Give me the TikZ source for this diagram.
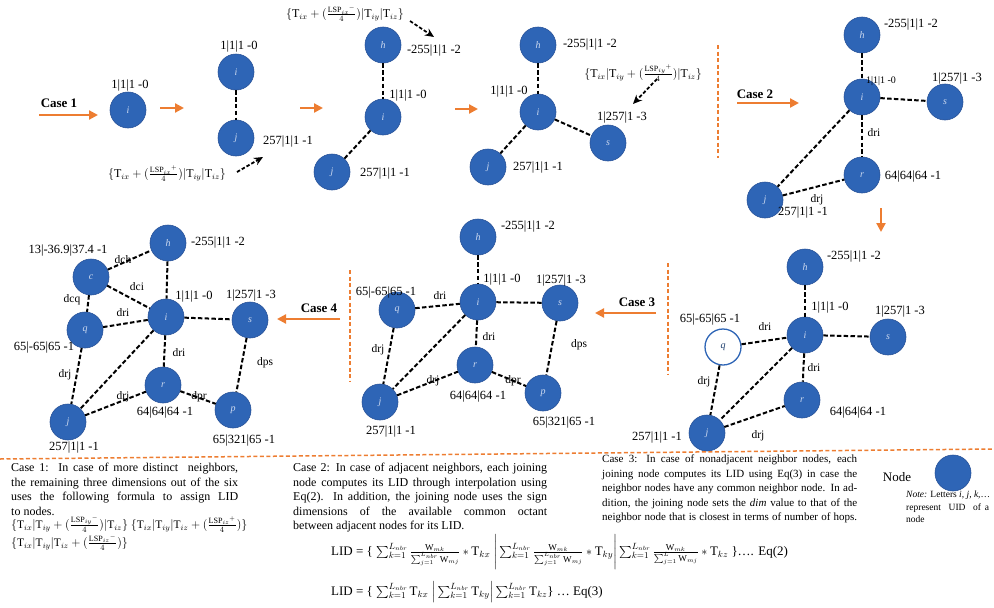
\documentclass[tikz,border=0pt]{standalone}
\usepackage{amsmath}
\usepackage{fontspec}
\setmainfont{Liberation Serif}
\usetikzlibrary{arrows.meta}

\definecolor{nodeblue}{RGB}{46,101,182}
\definecolor{nodeedge}{RGB}{40,82,152}
\definecolor{orng}{RGB}{237,125,49}
\definecolor{lettercol}{RGB}{205,218,240}

% one stretched (justified) line of a text block
\newcommand{\fillline}[2]{\makebox[#1][s]{#2}}
\newcommand{\Tm}[1]{\mathrm{T}_{#1}}
\newcommand{\LSPf}[2]{\frac{\mathrm{LSP}_{#1}{}^{#2}}{4}}
\newcommand{\wfrac}[1]{\frac{\mathrm{W}_{mk}}{\sum_{j=1}^{#1}\mathrm{W}_{mj}}}
\newcommand{\sk}{\sum_{k=1}^{L_{nbr}}}

\tikzset{
  nd/.style={circle, fill=nodeblue, draw=nodeedge, line width=0.6pt,
    minimum size=36pt, inner sep=0pt,
    font=\fontsize{10}{10}\selectfont\itshape, text=lettercol},
  hollow/.style={circle, fill=white, draw=nodeblue, line width=1.3pt,
    minimum size=36pt, inner sep=0pt,
    font=\fontsize{10}{10}\selectfont\itshape, text=nodeblue!60!black},
  lbl/.style={font=\fontsize{12.5}{13}\selectfont, inner sep=0pt},
  smalllbl/.style={font=\fontsize{10}{10}\selectfont, inner sep=0pt},
  elbl/.style={font=\fontsize{11.5}{12}\selectfont, inner sep=0pt},
  fml/.style={font=\fontsize{12}{13}\selectfont, inner sep=0pt},
  link/.style={draw=black, line width=2pt, dash pattern=on 4.5pt off 2.3pt},
  flow/.style={draw=orng, line width=2.2pt, -{Triangle[length=9pt,width=9pt]}},
  hint/.style={draw=black, line width=1.8pt, dash pattern=on 3.5pt off 2pt,
    -{Stealth[length=9pt,width=8pt]}},
  divider/.style={draw=orng, line width=1.5pt, dash pattern=on 4pt off 2.5pt},
  casetxt/.style={font=\fontsize{13}{13}\selectfont\bfseries, inner sep=0pt},
  para/.style={align=left, inner sep=0pt, anchor=north west},
}

\begin{document}
\begin{tikzpicture}[x=1pt,y=-1pt]
\useasboundingbox (0,0) rectangle (994,608);

% ---------------- Case 1: first node ----------------
\node[casetxt] (caseone) at (59,103) {Case 1};
\coordinate (c1s) at (39,115); \coordinate (c1e) at (98,115);
\draw[flow] (c1s) -- (c1e);
\node[nd] (ai) at (128,110) {i};
\node[lbl] (aiL) at (130,86) {1|1|1 -0};
\coordinate (a1) at (160,108); \coordinate (a2) at (184,108);
\draw[flow] (a1) -- (a2);

% ---------------- Case 1: second node ----------------
\node[nd] (bi) at (236,72) {i};
\node[lbl] (biL) at (239,47) {1|1|1 -0};
\node[nd] (bj) at (236,138) {j};
\node[lbl] (bjL) at (288,142) {257|1|1 -1};
\draw[link] (bi) -- (bj);
\node[fml] (bF) at (167,174) {$\{\Tm{ix} + (\LSPf{ix}{+})|\Tm{iy}|\Tm{iz}\}$};
\coordinate (bh1) at (237,172); \coordinate (bh2) at (263,157);
\draw[hint] (bh1) -- (bh2);
\coordinate (b1) at (300,108); \coordinate (b2) at (323,108);
\draw[flow] (b1) -- (b2);

% ---------------- Case 1: third node ----------------
\node[nd] (ch) at (383,45) {h};
\node[lbl] (chL) at (434,51) {-255|1|1 -2};
\node[nd] (ci) at (383,117) {i};
\node[lbl] (ciL) at (408,96) {1|1|1 -0};
\node[nd] (cj) at (332,172) {j};
\node[lbl] (cjL) at (385,174) {257|1|1 -1};
\draw[link] (ch) -- (ci);
\draw[link] (ci) -- (cj);
\node[fml] (cF) at (345,14) {$\{\Tm{ix} + (\LSPf{ix}{-})|\Tm{iy}|\Tm{iz}\}$};
\coordinate (ch1) at (410,21); \coordinate (ch2) at (434,37);
\draw[hint] (ch1) -- (ch2);
\coordinate (c1) at (455,109); \coordinate (c2) at (478,109);
\draw[flow] (c1) -- (c2);

% ---------------- Case 1: fourth node ----------------
\node[nd] (dh) at (538,45) {h};
\node[lbl] (dhL) at (590,45) {-255|1|1 -2};
\node[nd] (di) at (538,112) {i};
\node[lbl] (diL) at (509,92) {1|1|1 -0};
\node[nd] (ds) at (608,143) {s};
\node[lbl] (dsL) at (622,118) {1|257|1 -3};
\node[nd] (dj) at (488,167) {j};
\node[lbl] (djL) at (538,168) {257|1|1 -1};
\draw[link] (dh) -- (di);
\draw[link] (di) -- (dj);
\draw[link] (di) -- (ds);
\node[fml] (dF) at (643,73) {$\{\Tm{ix}|\Tm{iy} + (\LSPf{iy}{+})|\Tm{iz}\}$};
\coordinate (dh1) at (657,79); \coordinate (dh2) at (633,104);
\draw[hint] (dh1) -- (dh2);

\coordinate (v1a) at (718,45); \coordinate (v1b) at (718,158);
\draw[divider] (v1a) -- (v1b);

% ---------------- Case 2 ----------------
\node[casetxt] (casetwo) at (755,94) {Case 2};
\coordinate (e1) at (737,103); \coordinate (e2) at (799,103);
\draw[flow] (e1) -- (e2);
\node[nd] (eh) at (862,35) {h};
\node[lbl] (ehL) at (911,25) {-255|1|1 -2};
\node[nd] (ei) at (862,97) {i};
\node[smalllbl] (eiL) at (881,81) {1|1|1 -0};
\node[nd] (es) at (945,102) {s};
\node[lbl] (esL) at (957,79) {1|257|1 -3};
\node[nd] (er) at (862,175) {r};
\node[lbl] (erL) at (913,177) {64|64|64 -1};
\node[nd] (ej) at (765,200) {j};
\node[lbl] (ejL) at (803,213) {257|1|1 -1};
\draw[link] (eh) -- (ei);
\draw[link] (ei) -- (es);
\draw[link] (ei) -- (er);
\draw[link] (ei) -- (ej);
\draw[link] (ej) -- (er);
\node[elbl] (eDri) at (874,133) {dri};
\node[elbl] (eDrj) at (817,200) {drj};
\coordinate (e3) at (881,208); \coordinate (e4) at (881,232);
\draw[flow] (e3) -- (e4);

% ---------------- Case 3: joining node q ----------------
\node[nd] (fh) at (805,267) {h};
\node[lbl] (fhL) at (854,257) {-255|1|1 -2};
\node[nd] (fi) at (805,335) {i};
\node[lbl] (fiL) at (830,308) {1|1|1 -0};
\node[nd] (fs) at (888,337) {s};
\node[lbl] (fsL) at (900,312) {1|257|1 -3};
\node[hollow] (fq) at (723,347) {q};
\node[lbl] (fqL) at (710,320) {65|-65|65 -1};
\node[nd] (fr) at (802,400) {r};
\node[lbl] (frL) at (858,413) {64|64|64 -1};
\node[nd] (fj) at (707,433) {j};
\node[lbl] (fjL) at (657,438) {257|1|1 -1};
\draw[link] (fh) -- (fi);
\draw[link] (fi) -- (fs);
\draw[link] (fq) -- (fi);
\draw[link] (fi) -- (fr);
\draw[link] (fq) -- (fj);
\draw[link] (fi) -- (fj);
\draw[link] (fj) -- (fr);
\node[elbl] (fDri) at (765,327) {dri};
\node[elbl] (fDri2) at (814,368) {dri};
\node[elbl] (fDrj) at (704,382) {drj};
\node[elbl] (fDrj2) at (758,436) {drj};
\coordinate (v2a) at (668,263); \coordinate (v2b) at (668,375);
\draw[divider] (v2a) -- (v2b);
\node[casetxt] (casethree) at (637,302) {Case 3};
\coordinate (f1) at (656,313); \coordinate (f2) at (595,313);
\draw[flow] (f1) -- (f2);

% ---------------- Case 3: result ----------------
\node[nd] (gh) at (478,237) {h};
\node[lbl] (ghL) at (528,227) {-255|1|1 -2};
\node[nd] (gi) at (478,302) {i};
\node[lbl] (giL) at (502,280) {1|1|1 -0};
\node[nd] (gs) at (560,303) {s};
\node[lbl] (gsL) at (561,281) {1|257|1 -3};
\node[nd] (gq) at (397,310) {q};
\node[lbl] (gqL) at (386,293) {65|-65|65 -1};
\node[nd] (gr) at (475,365) {r};
\node[lbl] (grL) at (478,397) {64|64|64 -1};
\node[nd] (gj) at (380,402) {j};
\node[lbl] (gjL) at (391,432) {257|1|1 -1};
\node[nd] (gp) at (543,393) {p};
\node[lbl] (gpL) at (564,423) {65|321|65 -1};
\draw[link] (gh) -- (gi);
\draw[link] (gi) -- (gs);
\draw[link] (gq) -- (gi);
\draw[link] (gi) -- (gr);
\draw[link] (gq) -- (gj);
\draw[link] (gi) -- (gj);
\draw[link] (gj) -- (gr);
\draw[link] (gr) -- (gp);
\draw[link] (gs) -- (gp);
\node[elbl] (gDri) at (440,296) {dri};
\node[elbl] (gDri2) at (489,337) {dri};
\node[elbl] (gDrj) at (378,350) {drj};
\node[elbl] (gDrj2) at (433,381) {drj};
\node[elbl] (gDpr) at (513,381) {dpr};
\node[elbl] (gDps) at (579,345) {dps};
\coordinate (v3a) at (350,270); \coordinate (v3b) at (350,382);
\draw[divider] (v3a) -- (v3b);
\node[casetxt] (casefour) at (319,308) {Case 4};
\coordinate (g1) at (340,319); \coordinate (g2) at (277,319);
\draw[flow] (g1) -- (g2);

% ---------------- Case 4: result ----------------
\node[nd] (hh) at (168,243) {h};
\node[lbl] (hhL) at (218,243) {-255|1|1 -2};
\node[nd] (hc) at (91,277) {c};
\node[lbl] (hcL) at (68,251) {13|-36.9|37.4 -1};
\node[nd] (hi) at (166,317) {i};
\node[lbl] (hiL) at (194,297) {1|1|1 -0};
\node[nd] (hs) at (250,320) {s};
\node[lbl] (hsL) at (251,296) {1|257|1 -3};
\node[nd] (hq) at (85,330) {q};
\node[lbl] (hqL) at (44,348) {65|-65|65 -1};
\node[nd] (hr) at (163,385) {r};
\node[lbl] (hrL) at (165,413) {64|64|64 -1};
\node[nd] (hj) at (68,422) {j};
\node[lbl] (hjL) at (74,448) {257|1|1 -1};
\node[nd] (hp) at (233,410) {p};
\node[lbl] (hpL) at (244,441) {65|321|65 -1};
\draw[link] (hc) -- (hh);
\draw[link] (hh) -- (hi);
\draw[link] (hc) -- (hi);
\draw[link] (hc) -- (hq);
\draw[link] (hq) -- (hi);
\draw[link] (hi) -- (hs);
\draw[link] (hi) -- (hr);
\draw[link] (hq) -- (hj);
\draw[link] (hi) -- (hj);
\draw[link] (hj) -- (hr);
\draw[link] (hr) -- (hp);
\draw[link] (hs) -- (hp);
\node[elbl] (hDch) at (123,260) {dch};
\node[elbl] (hDci) at (137,287) {dci};
\node[elbl] (hDcq) at (72,300) {dcq};
\node[elbl] (hDri) at (123,313) {dri};
\node[elbl] (hDri2) at (179,353) {dri};
\node[elbl] (hDrj) at (65,375) {drj};
\node[elbl] (hDrj2) at (123,397) {drj};
\node[elbl] (hDpr) at (199,397) {dpr};
\node[elbl] (hDps) at (265,363) {dps};

% ---------------- separator ----------------
\coordinate (sepL) at (0,459); \coordinate (sepR) at (994,449);
\draw[divider] (sepL) -- (sepR);

% ---------------- explanations ----------------
\node[para, font=\fontsize{12}{14.5}\selectfont] (txtone) at (11,463) {%
\fillline{227pt}{Case 1:\ \ In case of more distinct\ \ neighbors,}\\
\fillline{227pt}{the remaining three dimensions out of the six}\\
\fillline{227pt}{uses the following formula to assign LID}\\
to nodes.\\[-1pt]
{\fontsize{11.5}{14}\selectfont$\{\Tm{ix}|\Tm{iy} + (\LSPf{iy}{-})|\Tm{iz}\}$ $\{\Tm{ix}|\Tm{iy}|\Tm{iz} + (\LSPf{iz}{+})\}$}\\[1pt]
{\fontsize{11.5}{14}\selectfont$\{\Tm{ix}|\Tm{iy}|\Tm{iz} + (\LSPf{iz}{-})\}$}};

\node[para, font=\fontsize{12}{14.5}\selectfont] (txttwo) at (293,463) {%
\fillline{254pt}{Case 2: In case of adjacent neighbors, each joining}\\
\fillline{254pt}{node computes its LID through interpolation using}\\
\fillline{254pt}{Eq(2). In addition, the joining node uses the sign}\\
\fillline{254pt}{dimensions of the available common octant}\\
between adjacent nodes for its LID.};

\node[para, font=\fontsize{11}{14.5}\selectfont] (txtthree) at (602,455) {%
\fillline{255pt}{Case 3: In case of nonadjacent neighbor nodes, each}\\
\fillline{255pt}{joining node computes its LID using Eq(3) in case the}\\
\fillline{255pt}{neighbor nodes have any common neighbor node. In ad-}\\
\fillline{255pt}{dition, the joining node sets the \textit{dim} value to that of the}\\
\fillline{255pt}{neighbor node that is closest in terms of number of hops.}};

% ---------------- equations ----------------
\node[fml, anchor=west, font=\fontsize{13}{14}\selectfont] (eqtwo) at (331,552) {%
LID = \{ $\sk \wfrac{L_{nbr}} * \Tm{kx}\ \Bigg|\sk \wfrac{L_{nbr}} * \Tm{ky}\Bigg|\sk \wfrac{L} * \Tm{kz}$ \}…. Eq(2)};

\node[fml, anchor=west, font=\fontsize{13}{14}\selectfont] (eqthree) at (331,592) {%
LID = \{ $\sk \Tm{kx}\ \Big|\sk \Tm{ky}\Big|\sk \Tm{kz}$\} … Eq(3)};

% ---------------- legend ----------------
\node[font=\fontsize{13}{13}\selectfont, inner sep=0pt] (legword) at (897,477) {Node};
\node[nd] (legnode) at (953,473) {};
\node[para, font=\fontsize{9.5}{12.5}\selectfont] (legnote) at (906,491) {%
\textit{Note:} Letters \textit{i, j, k,}\ldots\\
\fillline{83pt}{represent\ \ UID\ \ of a}\\
node};

\end{tikzpicture}
\end{document}
